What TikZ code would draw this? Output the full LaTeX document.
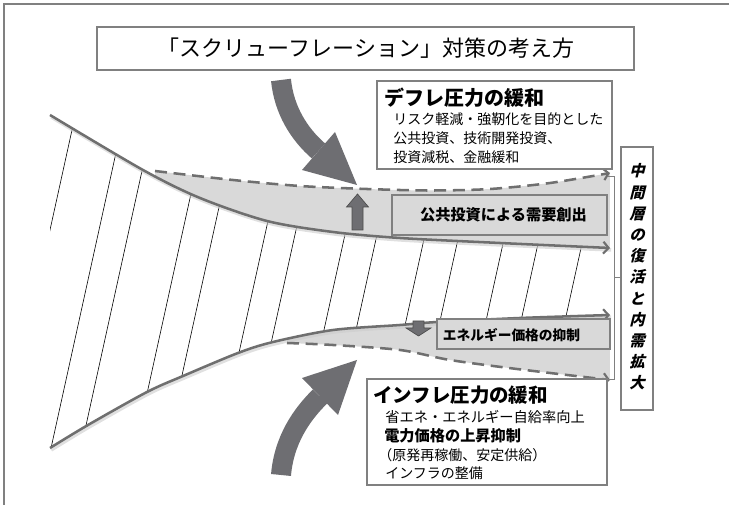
\documentclass[tikz,border=0pt]{standalone}
\usepackage{fontspec}
\setmainfont{Noto Sans CJK JP}
\newfontfamily\jpsl{Noto Sans CJK JP}[FakeSlant=0.25]
\usetikzlibrary{arrows.meta}
\definecolor{linegray}{HTML}{6F6F6F}
\definecolor{fillgray}{HTML}{D9D9D9}
\definecolor{arrowgray}{HTML}{6E6E72}
\definecolor{boxgray}{HTML}{808080}
\newcommand\fs[1]{\fontsize{#1}{#1}\selectfont}
\def\upsolid{(50,115) (143,170) (200,198) (267,221) (333,232) (400,238) (500,243) (610,248)}
\def\updash{(155,171) (233,180) (300,186) (367,189) (430,190.5) (490,189) (550,183) (610,173)}
\def\losolid{(50,448) (88,425) (147,392) (183,376) (238,353) (273,342) (333,330) (400,325) (437,322) (520,318) (610,315)}
\def\lodash{(287,343) (333,345) (400,350) (450,360) (517,369) (610,380)}
\begin{document}
\begin{tikzpicture}[x=0.75pt,y=-0.75pt,
  whitebox/.style={draw=boxgray,line width=1.1pt,fill=white,inner sep=0pt},
  graybox/.style={draw=boxgray,line width=1.1pt,fill=fillgray,inner sep=0pt},
  curve/.style={draw=linegray,line width=1.9pt,-{Straight Barb[length=4pt,width=9pt,line width=1.6pt]}},
  dcurve/.style={curve,dash pattern=on 9pt off 5pt},
  shadowline/.style={draw=black!20,line width=2.6pt,opacity=0.6},
  bigarrow/.style={draw=arrowgray,line width=15pt},
  txt/.style={inner sep=0pt,anchor=west},
  hatch/.style={draw=black,line width=0.45pt}]
\useasboundingbox (0,0) rectangle (729,505);
% frame
\draw[draw=boxgray,line width=1pt] (4,505) -- (4,4) -- (729,4);

% gray regions
\begin{scope}
  \clip plot[smooth] coordinates {\upsolid} -- (610,0) -- (50,0) -- cycle;
  \fill[fillgray] plot[smooth] coordinates {\updash} -- (610,262) -- (155,262) -- cycle;
\end{scope}
\begin{scope}
  \clip plot[smooth] coordinates {\losolid} -- (610,505) -- (50,505) -- cycle;
  \fill[fillgray] plot[smooth] coordinates {\lodash} -- (610,300) -- (287,300) -- cycle;
\end{scope}

% hatching
\begin{scope}
  \clip plot[smooth] coordinates {\upsolid} -- (610,505) -- (50,505) -- cycle;
  \clip plot[smooth] coordinates {\losolid} -- (610,0) -- (50,0) -- cycle;
  \clip (50,0) rectangle (598,505);
  \foreach \xx in {39,88,118,172,203,255,285,335,367,415,449,495,530,574}
    \draw[hatch] (\xx-0.22*220,500) -- (\xx+0.22*230,50);
\end{scope}

% shadows
\begin{scope}[shift={(1.2,2)}]
  \draw[shadowline] plot[smooth] coordinates {\upsolid};
  \draw[shadowline] plot[smooth] coordinates {\losolid};
\end{scope}

% curves
\draw[curve] plot[smooth] coordinates {\upsolid};
\draw[dcurve] plot[smooth] coordinates {\updash};
\draw[curve] plot[smooth] coordinates {\losolid};
\draw[dcurve] plot[smooth] coordinates {\lodash};

% big curved arrows
\draw[bigarrow] (281,80) .. controls (284,110) and (299,134) .. (318.5,151);
\fill[arrowgray] (302,170) -- (357,185) -- (335,132) -- cycle;
\draw[bigarrow] (281,475) .. controls (284,440) and (301.5,414.75) .. (320,396.5);
\fill[arrowgray] (302,378) -- (357,360) -- (338,415) -- cycle;

% small block arrows
\filldraw[fill=arrowgray,draw=black!70,line width=0.5pt] (352,230) -- (363,230) -- (363,207) -- (368.5,207) -- (357.5,194) -- (346.5,207) -- (352,207) -- cycle;
\filldraw[fill=arrowgray,draw=black!70,line width=0.5pt] (413,321) -- (424,321) -- (424,328) -- (431,328) -- (418.5,336) -- (406,328) -- (413,328) -- cycle;

% title
\node[whitebox,minimum width=537*0.75pt,minimum height=43*0.75pt] (titlebox) at (365.5,48.5) {};
\node[inner sep=0pt,font=\fs{16.5}] (title) at (366,48.5) {「スクリューフレーション」対策の考え方};

% deflation box
\node[whitebox,minimum width=235*0.75pt,minimum height=88*0.75pt] (defbox) at (494.5,125) {};
\node[txt,font=\fs{15}\bfseries] (deft) at (384,97.5) {デフレ圧力の緩和};
\node[txt,font=\fs{10.5}] (def1) at (393,119.5) {リスク軽減・強靭化を目的とした};
\node[txt,font=\fs{10.5}] (def2) at (393,138.5) {公共投資、技術開発投資、};
\node[txt,font=\fs{10.5}] (def3) at (393,157) {投資減税、金融緩和};

% inflation box
\node[whitebox,minimum width=240*0.75pt,minimum height=106*0.75pt] (infbox) at (487,432) {};
\node[txt,font=\fs{14.6}\bfseries] (inft) at (373,395) {インフレ圧力の緩和};
\node[txt,font=\fs{10.7}] (inf1) at (385,417) {省エネ・エネルギー自給率向上};
\node[txt,font=\fs{11.4}\bfseries] (inf2) at (384,436) {電力価格の上昇抑制};
\node[txt,font=\fs{10.5}] (inf3) at (378,455) {（原発再稼働、安定供給）};
\node[txt,font=\fs{10.5}] (inf4) at (385,473.5) {インフラの整備};

% gray label boxes
\node[graybox,minimum width=215*0.75pt,minimum height=40*0.75pt] (pubbox) at (499.5,215) {};
\node[inner sep=0pt,font=\fs{11.4}\bfseries] (pubt) at (503.5,215) {公共投資による需要創出};
\node[graybox,minimum width=173*0.75pt,minimum height=30*0.75pt] (enebox) at (523.5,334) {};
\node[inner sep=0pt,font=\fs{10.3}\bfseries] (enet) at (511.5,335) {エネルギー価格の抑制};

% vertical box
\node[whitebox,minimum width=32*0.75pt,minimum height=263*0.75pt] (vbox) at (637,278.5) {};
\node[inner sep=0pt,align=center,font={\jpsl\bfseries\fontsize{11.5}{15.9}\selectfont}] (vtxt) at (637,277) {中\\間\\層\\の\\復\\活\\と\\内\\需\\拡\\大};

% bracket
\coordinate (bt1) at (608,176);
\coordinate (bt2) at (614,176);
\coordinate (bb1) at (608,379);
\coordinate (bb2) at (614,379);
\coordinate (bm) at (614,277.5);
\draw[boxgray,line width=0.6pt] (bt1) -- (bt2) -- (bb2) -- (bb1);
\draw[boxgray,line width=0.6pt] (bm) -- (bm -| vbox.west);
\end{tikzpicture}
\end{document}
